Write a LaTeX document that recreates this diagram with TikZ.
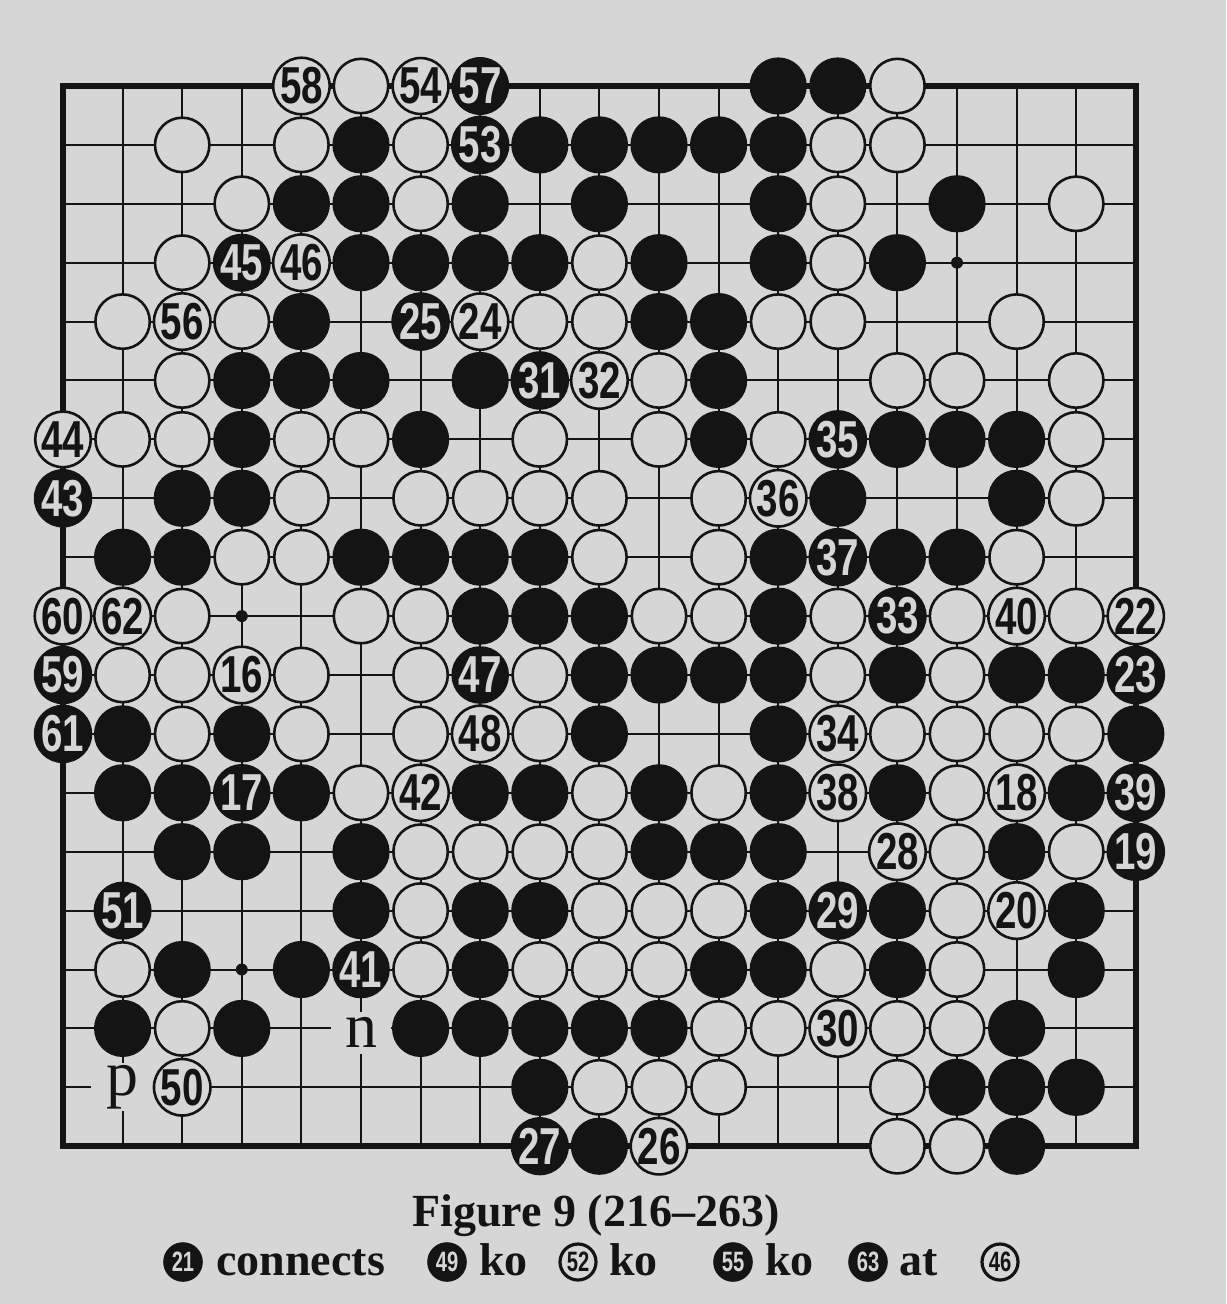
\documentclass[tikz,border=0pt]{standalone}
\usepackage{fontspec}
\setmainfont{Liberation Serif}
\newfontfamily\numfont{Liberation Sans}
\definecolor{paper}{RGB}{214,214,214}
\definecolor{ink}{RGB}{20,20,20}
\newcommand\stnum[1]{\scalebox{0.74}[1]{#1}}
\newcommand\smnum[1]{\scalebox{0.72}[1]{#1}}
\tikzset{
  gridline/.style={draw=ink, line width=1pt},
  boardedge/.style={draw=ink, line width=3pt, line join=miter},
  bstone/.style={circle, fill=ink, draw=ink, line width=1pt, minimum size=27.6pt, inner sep=0pt,
    text=paper, font=\numfont\bfseries\fontsize{26}{26}\selectfont},
  wstone/.style={circle, fill=paper, draw=ink, line width=1.3pt, minimum size=27.2pt, inner sep=0pt,
    text=ink, font=\numfont\bfseries\fontsize{26}{26}\selectfont},
  marklabel/.style={fill=paper, inner sep=0pt, minimum width=30pt, minimum height=21pt,
    font=\rmfamily\fontsize{32}{32}\selectfont, text=ink},
  starpt/.style={circle, fill=ink, inner sep=0pt, minimum size=6pt},
  cbstone/.style={circle, fill=ink, draw=ink, line width=0.8pt, minimum size=19pt, inner sep=0pt,
    text=paper, font=\numfont\bfseries\fontsize{14}{14}\selectfont},
  cwstone/.style={circle, fill=paper, draw=ink, line width=1.6pt, minimum size=18pt, inner sep=0pt,
    text=ink, font=\numfont\bfseries\fontsize{14}{14}\selectfont},
  captext/.style={font=\bfseries\fontsize{23}{23}\selectfont, text=ink, inner sep=0pt},
}
\begin{document}
\begin{tikzpicture}[x=0.5pt,y=-0.5pt]
\fill[paper] (0,0) rectangle (1226,1304);
\useasboundingbox (0,0) rectangle (1226,1304);
\begin{scope}[shift={(63,86)},x=29.8pt,y=-29.45pt]
  % grid
  \foreach \i in {1,...,17} {
    \draw[gridline] (\i,0) -- (\i,18);
    \draw[gridline] (0,\i) -- (18,\i);
  }
  \draw[boardedge] (0,0) rectangle (18,18);
  % star points
  \foreach \c/\r in {3/3,9/3,15/3,3/9,9/9,15/9,3/15,9/15,15/15}
    \node[starpt] (h\c-\r) at (\c,\r) {};
  % letter marks (drawn under the stones, they blank the lines)
  \node[marklabel] (markn) at (5,16.07) {n};
  \node[marklabel, minimum width=32pt, minimum height=24pt] (markp) at (1,17) {p};
  % black stones
  \foreach \c in {12,13} \node[bstone] (s\c-0) at (\c,0) {};
  \foreach \c in {5,8,9,10,11,12} \node[bstone] (s\c-1) at (\c,1) {};
  \foreach \c in {4,5,7,9,12,15} \node[bstone] (s\c-2) at (\c,2) {};
  \foreach \c in {5,6,7,8,10,12,14} \node[bstone] (s\c-3) at (\c,3) {};
  \foreach \c in {4,10,11} \node[bstone] (s\c-4) at (\c,4) {};
  \foreach \c in {3,4,5,7,11} \node[bstone] (s\c-5) at (\c,5) {};
  \foreach \c in {3,6,11,14,15,16} \node[bstone] (s\c-6) at (\c,6) {};
  \foreach \c in {2,3,13,16} \node[bstone] (s\c-7) at (\c,7) {};
  \foreach \c in {1,2,5,6,7,8,12,14,15} \node[bstone] (s\c-8) at (\c,8) {};
  \foreach \c in {7,8,9,12} \node[bstone] (s\c-9) at (\c,9) {};
  \foreach \c in {9,10,11,12,14,16,17} \node[bstone] (s\c-10) at (\c,10) {};
  \foreach \c in {1,3,9,12,18} \node[bstone] (s\c-11) at (\c,11) {};
  \foreach \c in {1,2,4,7,8,10,12,14,17} \node[bstone] (s\c-12) at (\c,12) {};
  \foreach \c in {2,3,5,10,11,12,16} \node[bstone] (s\c-13) at (\c,13) {};
  \foreach \c in {5,7,8,12,14,17} \node[bstone] (s\c-14) at (\c,14) {};
  \foreach \c in {2,4,7,11,12,14,17} \node[bstone] (s\c-15) at (\c,15) {};
  \foreach \c in {1,3,6,7,8,9,10,16} \node[bstone] (s\c-16) at (\c,16) {};
  \foreach \c in {8,15,16,17} \node[bstone] (s\c-17) at (\c,17) {};
  \foreach \c in {9,16} \node[bstone] (s\c-18) at (\c,18) {};
  % white stones
  \foreach \c in {5,14} \node[wstone] (s\c-0) at (\c,0) {};
  \foreach \c in {2,4,6,13,14} \node[wstone] (s\c-1) at (\c,1) {};
  \foreach \c in {3,6,13,17} \node[wstone] (s\c-2) at (\c,2) {};
  \foreach \c in {2,9,13} \node[wstone] (s\c-3) at (\c,3) {};
  \foreach \c in {1,3,8,9,12,13,16} \node[wstone] (s\c-4) at (\c,4) {};
  \foreach \c in {2,10,14,15,17} \node[wstone] (s\c-5) at (\c,5) {};
  \foreach \c in {1,2,4,5,8,10,12,17} \node[wstone] (s\c-6) at (\c,6) {};
  \foreach \c in {4,6,7,8,9,11,17} \node[wstone] (s\c-7) at (\c,7) {};
  \foreach \c in {3,4,9,11,16} \node[wstone] (s\c-8) at (\c,8) {};
  \foreach \c in {2,5,6,10,11,13,15,17} \node[wstone] (s\c-9) at (\c,9) {};
  \foreach \c in {1,2,4,6,8,13,15} \node[wstone] (s\c-10) at (\c,10) {};
  \foreach \c in {2,4,6,8,14,15,16,17} \node[wstone] (s\c-11) at (\c,11) {};
  \foreach \c in {5,9,11,15} \node[wstone] (s\c-12) at (\c,12) {};
  \foreach \c in {6,7,8,9,15,17} \node[wstone] (s\c-13) at (\c,13) {};
  \foreach \c in {6,9,10,11,15} \node[wstone] (s\c-14) at (\c,14) {};
  \foreach \c in {1,6,8,9,10,13,15} \node[wstone] (s\c-15) at (\c,15) {};
  \foreach \c in {2,11,12,14,15} \node[wstone] (s\c-16) at (\c,16) {};
  \foreach \c in {9,10,11,14} \node[wstone] (s\c-17) at (\c,17) {};
  \foreach \c in {14,15} \node[wstone] (s\c-18) at (\c,18) {};
  % numbered black stones
  \foreach \c/\r/\n in {7/0/57,7/1/53,3/3/45,6/4/25,8/5/31,13/6/35,0/7/43,13/8/37,14/9/33,
      0/10/59,7/10/47,18/10/23,0/11/61,3/12/17,18/12/39,18/13/19,1/14/51,13/14/29,5/15/41,8/18/27}
    \node[bstone] (m\n) at (\c,\r) {\stnum{\n}};
  % numbered white stones
  \foreach \c/\r/\n in {4/0/58,6/0/54,4/3/46,2/4/56,7/4/24,9/5/32,0/6/44,12/7/36,0/9/60,1/9/62,
      16/9/40,18/9/22,3/10/16,7/11/48,13/11/34,6/12/42,13/12/38,16/12/18,14/13/28,16/14/20,
      13/16/30,2/17/50,10/18/26}
    \node[wstone] (m\n) at (\c,\r) {\stnum{\n}};
\end{scope}
% caption
\node[captext, anchor=base] (title) at (596,1226) {Figure 9 (216--263)};
\node[cbstone] (c21) at (183,1262) {\smnum{21}};
\node[captext, anchor=base west] (t21) at (216,1275) {connects};
\node[cbstone] (c49) at (447,1262) {\smnum{49}};
\node[captext, anchor=base west] (t49) at (479,1275) {ko};
\node[cwstone] (c52) at (578,1262) {\smnum{52}};
\node[captext, anchor=base west] (t52) at (609,1275) {ko};
\node[cbstone] (c55) at (733,1262) {\smnum{55}};
\node[captext, anchor=base west] (t55) at (765,1275) {ko};
\node[cbstone] (c63) at (868,1262) {\smnum{63}};
\node[captext, anchor=base west] (t63) at (899,1275) {at};
\node[cwstone] (c46) at (1000,1262) {\smnum{46}};
\end{tikzpicture}
\end{document}
